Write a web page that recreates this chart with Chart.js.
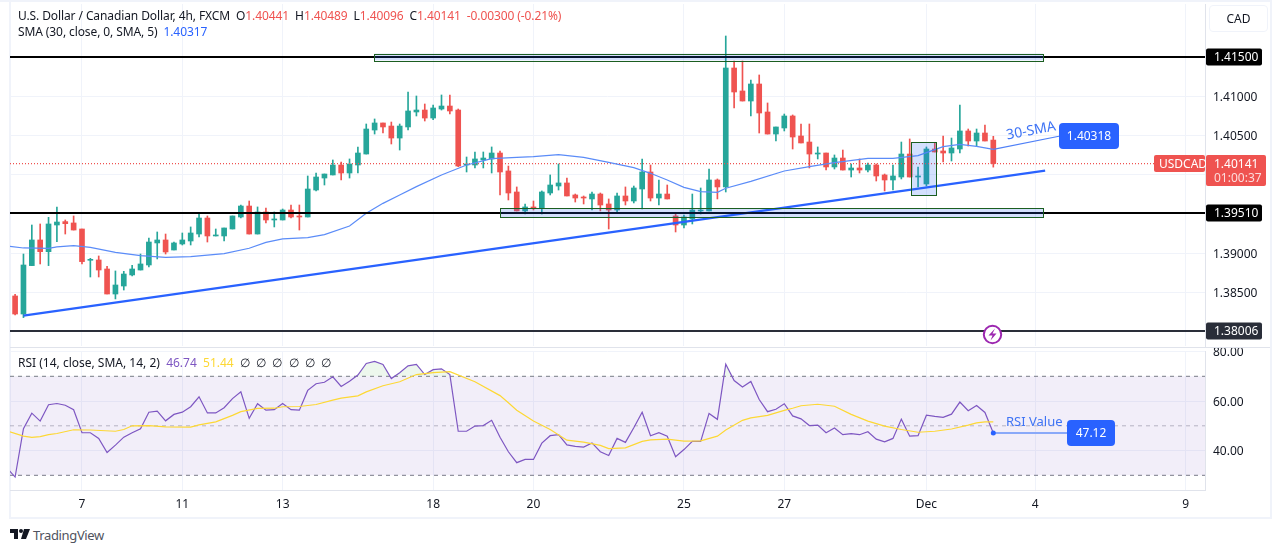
<!DOCTYPE html>
<html>
<head>
<meta charset="utf-8">
<title>USDCAD 4h</title>
<script src="https://cdn.jsdelivr.net/npm/chart.js@4/dist/chart.umd.min.js"></script>
<style>
  html, body { margin: 0; padding: 0; background: #fff; }
  body { width: 1281px; height: 553px; position: relative; overflow: hidden; font-family: "Noto Sans", sans-serif; }
  canvas { position: absolute; left: 0; }
  #priceChart { top: 0; }
  #rsiChart { top: 340px; }
  .frame { position: absolute; background: #f0f3fa; }
  .legend { position: absolute; left: 18px; font-size: 12px; line-height: 16px; color: #131722; white-space: pre; letter-spacing: -0.1px; }
  .red { color: #ef5350; }
  .blue { color: #2962ff; }
  .purple { color: #7e57c2; }
  .yellow { color: #fdd835; }
  #cad { position: absolute; left: 1209px; top: 5px; width: 57px; height: 25px; border: 1px solid #f0f3fa; border-radius: 4px; font-size: 12px; line-height: 25px; text-align: center; color: #131722; }
  #logo { position: absolute; left: 10px; top: 529px; }
  #brand { position: absolute; left: 33px; top: 527px; font-size: 13px; line-height: 17px; color: #50535e; letter-spacing: -0.35px; }
</style>
</head>
<body>
<div class="frame" style="left:0;top:0;width:1272px;height:2px"></div>
<div class="frame" style="left:9px;top:0;width:2px;height:519px"></div>
<div class="frame" style="left:1270px;top:0;width:2px;height:519px"></div>
<div class="frame" style="left:9px;top:517px;width:1263px;height:2px"></div>
<canvas id="priceChart" width="1281" height="347"></canvas>
<canvas id="rsiChart" width="1281" height="178"></canvas>
<div class="frame" style="left:10px;top:347px;width:1260px;height:1px;background:#e0e3eb"></div>
<div class="legend" style="top:8px">U.S. Dollar / Canadian Dollar, 4h, FXCM  O<span class="red">1.40441</span>  H<span class="red">1.40489</span>  L<span class="red">1.40096</span>  C<span class="red">1.40141  -0.00300 (-0.21%)</span></div>
<div class="legend" style="top:24px">SMA (30, close, 0, SMA, 5)  <span class="blue">1.40317</span></div>
<div class="legend" style="top:355px;letter-spacing:0">RSI (14, close, SMA, 14, 2)  <span class="purple">46.74</span>  <span class="yellow">51.44</span>  ∅  ∅  ∅  ∅  ∅  ∅</div>
<div id="cad">CAD</div>
<svg id="logo" width="20" height="12" viewBox="0 0 20 12"><path d="M0 0h8v10H4V4H0zM14 0h6l-4 10h-5z" fill="#131722"/><circle cx="11" cy="2" r="2" fill="#131722"/></svg>
<div id="brand">TradingView</div>
<script>
const opens = [1.38453,1.38223,1.3884,1.39167,1.39018,1.39358,1.39401,1.39384,1.39307,1.38908,1.38912,1.38797,1.38478,1.3858,1.38721,1.38784,1.38848,1.39129,1.39167,1.39039,
  1.39116,1.39154,1.39243,1.39447,1.39218,1.39218,1.39307,1.3946,1.396,1.39243,1.39524,1.39422,1.39422,1.39549,1.39473,1.3946,1.39804,1.39957,1.39996,1.40123,
  1.40021,1.40123,1.40263,1.40569,1.40659,1.4062,1.40467,1.40608,1.40799,1.40824,1.40722,1.40837,1.40875,1.40824,1.40123,1.40123,1.40187,1.402,1.40276,1.40047,
  1.39779,1.39537,1.39588,1.39575,1.39766,1.39855,1.39894,1.39741,1.39715,1.3969,1.39753,1.39626,1.39549,1.39728,1.39664,1.39817,1.40034,1.39702,1.39753,1.39473,
  1.39358,1.39435,1.39537,1.39537,1.39932,1.39843,1.4136,1.41067,1.40939,1.41156,1.40799,1.40518,1.40595,1.40748,1.40493,1.40416,1.40263,1.40276,1.40098,1.40212,
  1.40059,1.40085,1.40059,1.40123,1.39996,1.39932,1.3997,1.40263,1.3997,1.39881,1.40327,1.40302,1.40276,1.40327,1.40557,1.40429,1.40531,1.40441];
const highs = [1.38474,1.38988,1.39358,1.39371,1.39456,1.39588,1.39422,1.39473,1.39307,1.38933,1.38963,1.38831,1.38772,1.38767,1.38844,1.38988,1.39192,1.39269,1.39243,1.39141,
  1.39256,1.39333,1.39498,1.39473,1.39307,1.3932,1.39473,1.39613,1.39664,1.39588,1.39575,1.39524,1.39562,1.39613,1.39613,1.39983,1.40021,1.40008,1.40187,1.40161,
  1.402,1.40353,1.40646,1.4071,1.40659,1.40671,1.40646,1.41054,1.41003,1.40901,1.40888,1.41016,1.41016,1.40837,1.40225,1.40289,1.40289,1.40353,1.40302,1.4011,
  1.39843,1.39626,1.39664,1.39792,1.39996,1.40136,1.39957,1.39753,1.39728,1.39779,1.39766,1.3969,1.39766,1.39843,1.39855,1.402,1.40123,1.39932,1.39868,1.39498,
  1.39486,1.39753,1.3983,1.40072,1.39945,1.41768,1.41449,1.41449,1.41207,1.41271,1.40914,1.40608,1.40773,1.40761,1.40646,1.40646,1.40353,1.40276,1.40251,1.40314,
  1.40136,1.402,1.40149,1.40136,1.40008,1.40123,1.40416,1.40455,1.40098,1.40353,1.40404,1.40493,1.40467,1.40888,1.40582,1.40582,1.40633,1.40489];
const lows = [1.38211,1.38177,1.3884,1.38861,1.3884,1.39146,1.39243,1.39294,1.38861,1.38695,1.38695,1.38478,1.38415,1.38529,1.38708,1.38784,1.38823,1.38925,1.38988,1.39039,
  1.39103,1.39103,1.39205,1.39141,1.39218,1.39154,1.39307,1.39447,1.39243,1.39243,1.39384,1.39333,1.39422,1.39447,1.39294,1.3946,1.39792,1.39868,1.39996,1.39932,
  1.39957,1.40021,1.40263,1.40518,1.40531,1.40391,1.40314,1.40569,1.40748,1.40684,1.40701,1.40824,1.40773,1.40102,1.40034,1.40085,1.40085,1.40021,1.39741,1.39677,
  1.39537,1.39498,1.39549,1.39498,1.39741,1.39804,1.39728,1.39651,1.39626,1.39549,1.39537,1.39307,1.39524,1.39613,1.39639,1.39562,1.39664,1.39613,1.3969,1.39269,
  1.3932,1.39371,1.39498,1.39537,1.3969,1.39779,1.4085,1.40939,1.40748,1.40531,1.40518,1.40429,1.40557,1.40327,1.40404,1.40085,1.402,1.40059,1.40072,1.40059,
  1.3997,1.40021,1.40034,1.39919,1.39792,1.39804,1.39945,1.3997,1.39843,1.39855,1.40289,1.40161,1.40174,1.40276,1.40365,1.40365,1.40429,1.40096];
const closes = [1.38223,1.38848,1.39167,1.39018,1.39371,1.39396,1.39375,1.39294,1.38891,1.3892,1.38784,1.38478,1.38593,1.38733,1.38797,1.38861,1.39141,1.39167,1.39014,1.39129,
  1.39167,1.39256,1.39447,1.39218,1.39231,1.3932,1.39473,1.396,1.39243,1.39524,1.39422,1.39435,1.39549,1.3946,1.3946,1.39817,1.3997,1.40008,1.40123,1.40021,
  1.40136,1.40276,1.40582,1.40659,1.40608,1.40467,1.4062,1.40812,1.40824,1.40722,1.4085,1.40875,1.40812,1.4011,1.40136,1.402,1.40212,1.40276,1.40034,1.39766,
  1.39537,1.39588,1.39575,1.39779,1.39868,1.39894,1.39728,1.39702,1.39702,1.39753,1.39613,1.39549,1.39728,1.39664,1.3983,1.40034,1.39702,1.39753,1.3969,1.39358,
  1.3946,1.39549,1.39549,1.39932,1.39843,1.4136,1.41054,1.40939,1.41156,1.40786,1.40518,1.40608,1.40748,1.4048,1.40404,1.40263,1.40276,1.40098,1.40212,1.40059,
  1.40085,1.40059,1.40123,1.39983,1.39932,1.39983,1.40263,1.3997,1.39983,1.40327,1.40289,1.40276,1.4034,1.40557,1.40429,1.40531,1.40429,1.40141];

const smaIndex = [-1,1,4,5,7,9,12,15,18,21,25,28,30,32,35,37,40,42,44,46,48,51,54,57,60,62,65,68,71,74,76,78,80,82,84,85,88,92,95,98,102,105,108,111,113,115,117];
const smaValues = [1.3909,1.39065,1.3906,1.39078,1.39095,1.39073,1.3901,1.38967,1.38946,1.38954,1.38993,1.39061,1.39137,1.3918,1.39197,1.39235,1.39345,1.39507,1.39634,1.39741,1.39847,1.39996,1.40123,1.40204,1.40221,1.40229,1.40255,1.40221,1.40157,1.40089,1.40017,1.39932,1.39838,1.39783,1.39775,1.39826,1.39915,1.40047,1.40102,1.40153,1.40208,1.40208,1.40242,1.40357,1.40387,1.40361,1.40323];

const rsiIndex = [-1,0,1,2,3,4,5,6,7,8,9,10,11,12,13,14,15,16,17,18,19,20,21,22,23,24,25,26,27,28,29,30,31,32,33,34,35,36,37,38,39,40,41,42,43,44,45,46,47,48,49,50,51,52,53,54,55,56,57,58,59,60,61,62,63,64,65,66,67,68,69,70,71,72,73,74,75,76,77,78,79,80,81,82,83,84,85,86,87,88,89,90,91,92,93,94,95,96,97,98,99,100,101,102,103,104,105,106,107,108,109,110,111,112,113,114,115,116,117];
const rsiValues = [33,29.3,48.8,55.1,51.9,58.5,59,58.3,56.5,47.2,47.2,44.9,39.2,42.2,45.4,47.2,48.8,55.5,55.9,52,54.6,55.5,57.7,61.7,55.2,55.2,57.3,61,63.7,53,58.9,56.3,56.5,59,56.5,56.3,64.3,67,67.6,69.8,65.9,68,70.5,75.2,76,74.8,69.1,71.4,74.2,74.8,70.7,72.7,73,70.7,47.8,47.8,49.9,50.1,52.2,45.4,39.5,35.1,36.4,36.4,43,46,46.4,42.3,41.7,41.4,43.1,39.5,38,44.9,43.3,49.2,55.5,46,47.2,45.8,37.5,40.4,43.7,43.7,55,52.6,74.9,68.3,65.7,67.9,60.6,55.7,56.7,58.9,54,52.8,50.1,50.3,47.2,49.1,46.4,46.8,46.4,47.6,44.6,43.5,44.9,52.7,45.8,46,54.3,53.8,53.4,54.7,59.6,56.1,58.2,55.4,47.12];
const rsiMaIndex = [-1,1,2,3,4,5,7,9,12,13,14,16,18,21,22,24,26,27,29,31,32,34,36,38,39,41,42,44,46,48,50,52,55,58,59,60,62,64,66,68,70,71,73,75,76,78,80,82,84,85,87,88,90,92,93,94,96,98,100,102,104,106,108,110,112,114,115,116,117];
const rsiMaValues = [48,45.8,45.3,45.6,46.4,46.9,48.4,48.3,47.8,48.5,50,50.1,49.6,49.5,50.4,51.6,54.2,55.7,57,57.1,57.7,57.8,58.6,60.4,61.2,62.1,63.7,66.2,67.8,70.7,71.5,71.9,67.8,62.2,59.3,56.3,51.9,48.5,44.2,43.4,42.1,40.8,41.1,43.7,44.3,44.6,43.8,43.9,45.8,48.3,52.2,53.2,54.2,56.2,57.1,58.1,58.7,57.9,54.6,51.9,49.9,48.5,47.4,47.8,48.7,50.3,51.2,51.6,51.6];

const dayIndex = [8,20,32,50,62,80,92,109,122,140];
const dayLabels = ['7','11','13','18','20','25','27','Dec','4','9'];
const priceGrid = [1.415,1.41,1.405,1.4,1.395,1.39,1.385];
const priceLabels = [1.41,1.405,1.39,1.385];
const rsiTicks = [80,60,40];
const lastPrice = 1.40141;
const levels = [1.415,1.3951,1.38006];
const levelNames = ['1.41500','1.39510','1.38006'];
const levelColors = ['#000000','#000000','#2a2e39'];
const trendIndex = [1,123.2];
const trendValues = [1.38202,1.40051];
const smaCallout = [1.40323,1.40493];
const zones = [[42.95,122.95,1.41543,1.41458],[58,122.95,1.39571,1.39456],[107.2,110.2,1.40412,1.39736]];

const green = '#26a69a';
const red = '#ef5350';
const tvBlue = '#2962ff';
const gridColor = '#f0f3fa';
const axisColor = '#e0e3eb';
const textColor = '#131722';
const fontFamily = '"Noto Sans", sans-serif';
const xMin = -0.61;
const xMax = 142.32;

Chart.defaults.font.family = fontFamily;
Chart.defaults.font.size = 12;
Chart.defaults.color = textColor;
Chart.defaults.animation = false;

const candleColor = c => (closes[c.dataIndex] >= opens[c.dataIndex] ? green : red);
const hline = (y, color, width, order, dash) => ({
  type: 'line', data: [{ x: xMin, y }, { x: xMax, y }], borderColor: color, borderWidth: width,
  borderDash: dash || [], pointRadius: 0, order
});
// edge labels must not shrink the plot area
const noPadding = scale => {
  scale.paddingTop = 0;
  scale.paddingBottom = 0;
  scale.paddingLeft = 0;
  scale.paddingRight = 0;
};

function roundBox(ctx, x, y, w, h, r, color) {
  ctx.fillStyle = color;
  ctx.beginPath();
  ctx.roundRect(x, y, w, h, r);
  ctx.fill();
}

function boxText(ctx, text, x, y, color, size, align) {
  ctx.fillStyle = color;
  ctx.font = (size || 12) + 'px ' + fontFamily;
  ctx.textAlign = align || 'left';
  ctx.textBaseline = 'middle';
  ctx.fillText(text, x, y);
}

// drawings that sit on top of the price pane
const priceDrawings = {
  id: 'priceDrawings',
  afterDatasetsDraw(chart) {
    const { ctx, scales: { x, y } } = chart;
    ctx.save();
    zones.forEach(z => {
      const left = x.getPixelForValue(z[0]);
      const right = x.getPixelForValue(z[1]);
      const top = y.getPixelForValue(z[2]);
      const bottom = y.getPixelForValue(z[3]);
      ctx.fillStyle = 'rgba(33,100,243,0.2)';
      ctx.fillRect(left, top, right - left, bottom - top);
      ctx.strokeStyle = '#1b5e20';
      ctx.lineWidth = 1;
      ctx.strokeRect(Math.round(left) + 0.5, Math.round(top) + 0.5, Math.round(right - left), Math.round(bottom - top));
    });

    levels.forEach((v, i) => {
      const py = y.getPixelForValue(v);
      roundBox(ctx, 1206, py - 8.5, 56, 17, 2, levelColors[i]);
      boxText(ctx, levelNames[i], 1214, py + 1, '#ffffff');
    });

    const py = y.getPixelForValue(lastPrice);
    roundBox(ctx, 1154, py - 8.5, 51, 17, 2, red);
    boxText(ctx, 'USDCAD', 1159, py + 1, '#ffffff');
    roundBox(ctx, 1206, py - 8.5, 60, 31, 2, red);
    boxText(ctx, lastPrice.toFixed(5), 1214, py + 1, '#ffffff');
    boxText(ctx, '01:00:37', 1214, py + 15, 'rgba(255,255,255,0.8)');

    roundBox(ctx, 1059, 123, 60, 26, 4, tvBlue);
    boxText(ctx, '1.40318', 1089, 137, '#ffffff', 12, 'center');

    ctx.translate(1031, 131);
    ctx.rotate(-0.19);
    boxText(ctx, '30-SMA', 0, 0, '#3f74f5', 14, 'center');
    ctx.restore();

    // alert icon under the last bar
    ctx.save();
    ctx.translate(992.5, 334.5);
    ctx.strokeStyle = '#9c27b0';
    ctx.fillStyle = '#ffffff';
    ctx.lineWidth = 2;
    ctx.beginPath();
    ctx.arc(0, 0, 8.7, 0, Math.PI * 2);
    ctx.fill();
    ctx.stroke();
    ctx.fillStyle = '#9c27b0';
    ctx.beginPath();
    ctx.moveTo(2.5, -6);
    ctx.lineTo(-4, 1);
    ctx.lineTo(0, 1);
    ctx.lineTo(-2, 6);
    ctx.lineTo(4, -1);
    ctx.lineTo(0, -1);
    ctx.closePath();
    ctx.fill();
    ctx.restore();
  }
};

const rsiDrawings = {
  id: 'rsiDrawings',
  afterDatasetsDraw(chart) {
    const { ctx } = chart;
    ctx.save();
    const py = chart.scales.y.getPixelForValue(rsiValues[rsiValues.length - 1]);
    roundBox(ctx, 1067, py - 13, 48, 26, 4, tvBlue);
    boxText(ctx, '47.12', 1091, py + 1, '#ffffff', 12, 'center');
    boxText(ctx, 'RSI Value', 1006, py - 11, '#3f74f5', 13);
    ctx.restore();
  }
};

const sharedX = (showLabels) => ({
  type: 'linear',
  min: xMin,
  max: xMax,
  offset: false,
  afterBuildTicks(scale) { scale.ticks = dayIndex.map(value => ({ value })); },
  afterFit(scale) { scale.height = showLabels ? 28 : 0; noPadding(scale); },
  grid: { color: gridColor, offset: false, drawTicks: false },
  border: { display: showLabels, color: axisColor },
  ticks: {
    display: showLabels,
    autoSkip: false,
    maxRotation: 0,
    padding: 7,
    callback: v => dayLabels[dayIndex.indexOf(v)]
  }
});

new Chart(document.getElementById('priceChart'), {
  type: 'bar',
  data: {
    datasets: [
      hline(levels[0], '#000000', 2, 1),
      hline(levels[1], '#000000', 2, 1),
      hline(levels[2], levelColors[2], 2, 1),
      {
        type: 'line', data: trendIndex.map((x, i) => ({ x, y: trendValues[i] })),
        borderColor: tvBlue, borderWidth: 2.4, pointRadius: 0, order: 1
      },
      {
        type: 'line', data: [{ x: 117, y: smaCallout[0] }, { x: 125, y: smaCallout[1] }],
        borderColor: '#4f80f7', borderWidth: 1.2, pointRadius: 0, order: 2
      },
      {
        type: 'line', data: smaIndex.map((x, i) => ({ x, y: smaValues[i] })),
        borderColor: '#5b8cf8', borderWidth: 1.2, pointRadius: 0, order: 2
      },
      hline(lastPrice, red, 1.2, 3, [1, 2]),
      {
        label: 'body', data: opens.map((o, i) => ({ x: i, y: [o, closes[i]] })),
        backgroundColor: candleColor, barThickness: 5, grouped: false, order: 4
      },
      {
        label: 'wick', data: opens.map((o, i) => ({ x: i, y: [lows[i], highs[i]] })),
        backgroundColor: candleColor, barThickness: 1, grouped: false, order: 5
      }
    ]
  },
  options: {
    responsive: false,
    layout: { padding: { left: 10, top: 4, bottom: 1, right: 0 } },
    plugins: { legend: { display: false }, tooltip: { enabled: false } },
    scales: {
      x: sharedX(false),
      y: {
        position: 'right',
        min: 1.37815,
        max: 1.42176,
        afterBuildTicks(scale) { scale.ticks = priceGrid.map(value => ({ value })); },
        afterFit(scale) { scale.width = 76; noPadding(scale); },
        grid: { color: gridColor, drawTicks: false },
        border: { color: axisColor },
        ticks: {
          padding: 8,
          labelOffset: 1.5,
          autoSkip: false,
          callback: v => (priceLabels.includes(v) ? v.toFixed(5) : '')
        }
      }
    }
  },
  plugins: [priceDrawings]
});

new Chart(document.getElementById('rsiChart'), {
  type: 'line',
  data: {
    datasets: [
      {
        data: rsiIndex.map((x, i) => ({ x, y: rsiValues[i] })),
        borderColor: '#7e57c2', borderWidth: 1.2, pointRadius: 0, order: 2,
        fill: { value: 70, above: 'rgba(76,175,80,0.1)', below: 'rgba(0,0,0,0)' }
      },
      {
        data: rsiMaIndex.map((x, i) => ({ x, y: rsiMaValues[i] })),
        borderColor: '#fdd835', borderWidth: 1.2, pointRadius: 0, order: 1
      },
      {
        data: [{ x: 117, y: rsiValues[rsiValues.length - 1] }, { x: 127, y: rsiValues[rsiValues.length - 1] }],
        borderColor: '#8aa9f9', borderWidth: 2, order: 0,
        pointRadius: [2.5, 0], pointBackgroundColor: tvBlue, pointBorderWidth: 0
      },
      {
        data: [{ x: xMin, y: 70 }, { x: xMax, y: 70 }],
        borderColor: '#787b86', borderWidth: 1, borderDash: [4, 4], pointRadius: 0, order: 3,
        fill: { value: 30 }, backgroundColor: 'rgba(126,87,194,0.1)'
      },
      {
        data: [{ x: xMin, y: 50 }, { x: xMax, y: 50 }],
        borderColor: 'rgba(120,123,134,0.5)', borderWidth: 1, borderDash: [4, 4], pointRadius: 0, order: 3
      },
      {
        data: [{ x: xMin, y: 30 }, { x: xMax, y: 30 }],
        borderColor: '#787b86', borderWidth: 1, borderDash: [4, 4], pointRadius: 0, order: 3
      }
    ]
  },
  options: {
    responsive: false,
    layout: { padding: { left: 10, top: 11, bottom: 0, right: 0 } },
    plugins: { legend: { display: false }, tooltip: { enabled: false } },
    scales: {
      x: sharedX(true),
      y: {
        position: 'right',
        min: 24.06,
        max: 80.22,
        afterBuildTicks(scale) { scale.ticks = rsiTicks.map(value => ({ value })); },
        afterFit(scale) { scale.width = 76; noPadding(scale); },
        grid: { color: gridColor, drawTicks: false },
        border: { color: axisColor },
        ticks: { padding: 8, labelOffset: 1.5, autoSkip: false, callback: v => v.toFixed(2) }
      }
    }
  },
  plugins: [rsiDrawings]
});
</script>
</body>
</html>
